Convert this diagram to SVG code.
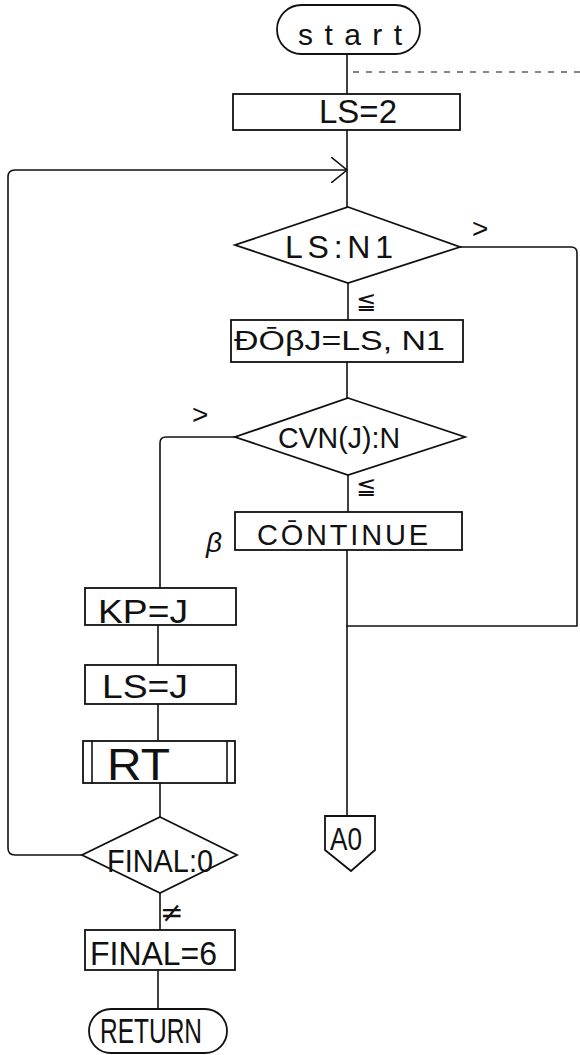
<svg xmlns="http://www.w3.org/2000/svg" width="580" height="1055" viewBox="0 0 580 1055">
<style>
.s{fill:none;stroke:#111;stroke-width:1.6;stroke-linejoin:round;stroke-linecap:round}
.b{fill:#fff;stroke:#111;stroke-width:1.8}
.t{font-family:"Liberation Sans",Arial,sans-serif;fill:#111}
.m{font-family:"DejaVu Sans","Liberation Sans",sans-serif;fill:#111}
</style>
<defs>
<marker id="chev" viewBox="0 0 16 26" refX="16" refY="13" markerWidth="16" markerHeight="26" markerUnits="userSpaceOnUse" orient="auto">
<path d="M0,0 L16,13 L0,26" fill="none" stroke="#111" stroke-width="1.6"/>
</marker>
</defs>
<rect width="580" height="1055" fill="#fff"/>
<g id="connectors">
<line class="s" x1="347" y1="54" x2="347" y2="94"/>
<line x1="353" y1="72" x2="580" y2="72" stroke="#111" stroke-width="1.2" stroke-dasharray="6 7"/>
<line class="s" x1="347" y1="130" x2="347" y2="207"/>
<path class="s" d="M82,855 H15 Q8,855 8,848 V177 Q8,170 15,170 H347" marker-end="url(#chev)"/>
<line class="s" x1="348" y1="283" x2="348" y2="320"/>
<path class="s" d="M460,247 H571 Q577,247 577,253 V626 H347"/>
<line class="s" x1="347" y1="362" x2="347" y2="398"/>
<path class="s" d="M235,437 H166 Q160,437 160,443 V588"/>
<line class="s" x1="348" y1="475" x2="348" y2="512"/>
<line class="s" x1="347" y1="550" x2="347" y2="816"/>
<line class="s" x1="158" y1="625" x2="158" y2="665"/>
<line class="s" x1="158" y1="704" x2="158" y2="741"/>
<line class="s" x1="160" y1="783" x2="160" y2="817"/>
<line class="s" x1="160" y1="893" x2="160" y2="930"/>
<line class="s" x1="158" y1="970" x2="158" y2="1009"/>
<text class="t" x="472" y="238" font-size="28">&gt;</text>
<text class="m" x="356" y="309" font-size="24">≦</text>
<text class="t" x="192" y="424" font-size="28">&gt;</text>
<text class="m" x="356" y="494" font-size="24">≦</text>
<text class="m" x="160" y="922" font-size="28">≠</text>
</g>
<g id="start">
<rect class="b" x="277" y="5" width="143" height="49" rx="24.5"/>
<text class="t" x="298" y="45" font-size="30" textLength="104" lengthAdjust="spacing">start</text>
</g>
<g id="ls2">
<rect class="b" x="233" y="94" width="227" height="36"/>
<text class="t" x="319" y="123" font-size="34" textLength="78" lengthAdjust="spacingAndGlyphs">LS=2</text>
</g>
<g id="lsn1">
<polygon class="b" points="348,207 460,247 348,283 235,245"/>
<text class="t" x="285" y="258" font-size="32" textLength="108" lengthAdjust="spacing">LS:N1</text>
</g>
<g id="do">
<rect class="b" x="231" y="320" width="232" height="42"/>
<text class="t" x="234" y="350" font-size="27" textLength="211" lengthAdjust="spacingAndGlyphs">ĐŌβJ=LS, N1</text>
</g>
<g id="cvn">
<polygon class="b" points="348,398 465,437 348,475 235,437"/>
<text class="t" x="278" y="448" font-size="30" textLength="122" lengthAdjust="spacingAndGlyphs">CVN(J):N</text>
</g>
<g id="continue">
<rect class="b" x="235" y="512" width="227" height="38"/>
<text class="t" x="257" y="545" font-size="29" textLength="171" lengthAdjust="spacing">CŌNTINUE</text>
<text class="t" x="206" y="552" font-size="28" font-style="italic">β</text>
</g>
<g id="kp">
<rect class="b" x="85" y="588" width="151" height="37"/>
<text class="t" x="98" y="623" font-size="33" textLength="90" lengthAdjust="spacingAndGlyphs">KP=J</text>
</g>
<g id="lsj">
<rect class="b" x="85" y="665" width="151" height="39"/>
<text class="t" x="102" y="698" font-size="33" textLength="86" lengthAdjust="spacingAndGlyphs">LS=J</text>
</g>
<g id="rt">
<rect class="b" x="83" y="741" width="152" height="42"/>
<line class="s" x1="92" y1="741" x2="92" y2="783"/>
<line class="s" x1="227" y1="741" x2="227" y2="783"/>
<text class="t" x="107" y="780" font-size="45" textLength="63" lengthAdjust="spacingAndGlyphs">RT</text>
</g>
<g id="final0">
<polygon class="b" points="160,817 237,855 160,893 82,855"/>
<text class="t" x="107" y="872" font-size="32" textLength="106" lengthAdjust="spacingAndGlyphs">FINAL:0</text>
</g>
<g id="final6">
<rect class="b" x="85" y="930" width="150" height="40"/>
<text class="t" x="90" y="965" font-size="33" textLength="127" lengthAdjust="spacingAndGlyphs">FINAL=6</text>
</g>
<g id="a0">
<polygon class="b" points="325,816 375,816 375,850 351,871 325,850"/>
<text class="t" x="330" y="850" font-size="31" textLength="32" lengthAdjust="spacingAndGlyphs">A0</text>
</g>
<g id="return">
<rect class="b" x="89" y="1009" width="138" height="44" rx="22"/>
<text class="t" x="100" y="1043" font-size="35" textLength="102" lengthAdjust="spacingAndGlyphs">RETURN</text>
</g>
</svg>
